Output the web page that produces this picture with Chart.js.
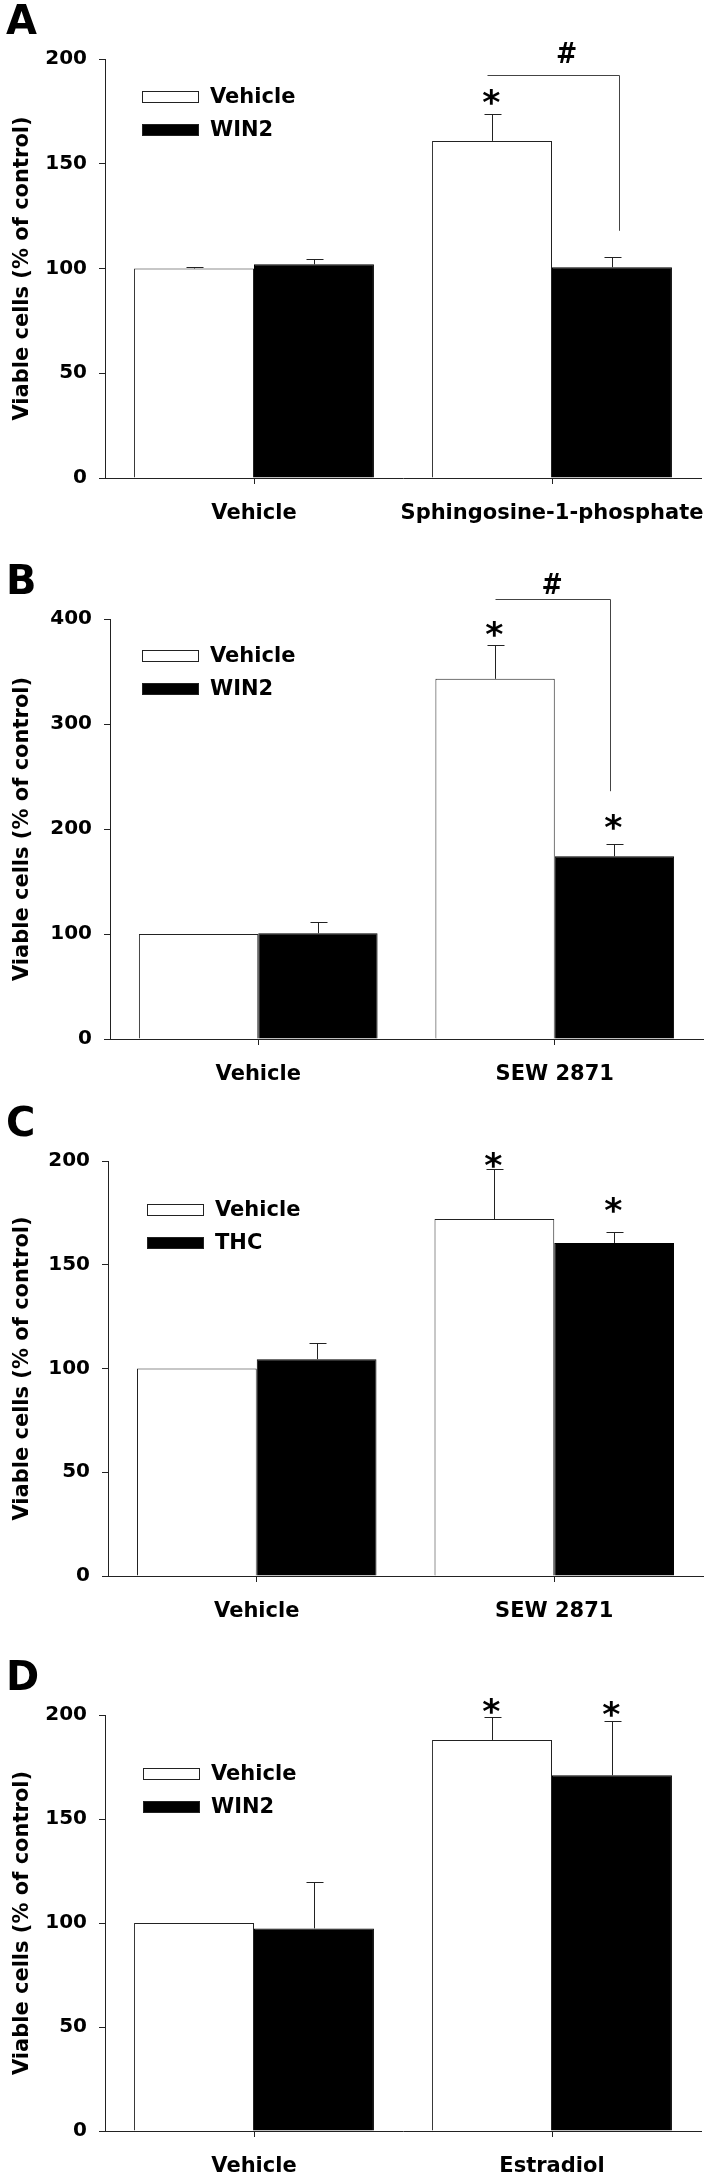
<!DOCTYPE html>
<html>
<head>
<meta charset="utf-8">
<script src="https://cdn.jsdelivr.net/npm/chart.js@4.4.1/dist/chart.umd.min.js"></script>
<style>
  html, body { margin: 0; padding: 0; background: #fff; }
  #page { position: relative; width: 713px; height: 2178px; overflow: hidden; background: #fff; }
  #page canvas { position: absolute; left: 0; }
</style>
</head>
<body>
<div id="page"></div>
<script>
// ---- data ----
const seriesA = ['Vehicle', 'WIN2'];
const categoriesA = ['Vehicle', 'Sphingosine-1-phosphate'];
const vehA = [100, 160.9];
const vehErrA = [0.5, 12.8];
const drugA = [102, 100.6];
const drugErrA = [2.3, 4.7];
const starsVehA = [null, 182.3];
const starsDrugA = [null, null];
const ticksA = [0, 50, 100, 150, 200];

const seriesB = ['Vehicle', 'WIN2'];
const categoriesB = ['Vehicle', 'SEW 2871'];
const vehB = [100, 343];
const vehErrB = [0, 32.5];
const drugB = [100.7, 174];
const drugErrB = [10.3, 12];
const starsVehB = [null, 391];
const starsDrugB = [null, 207];
const ticksB = [0, 100, 200, 300, 400];

const seriesC = ['Vehicle', 'THC'];
const categoriesC = ['Vehicle', 'SEW 2871'];
const vehC = [100, 172];
const vehErrC = [0, 24];
const drugC = [104.5, 160.5];
const drugErrC = [8, 5.5];
const starsVehC = [null, 200.5];
const starsDrugC = [null, 179];
const ticksC = [0, 50, 100, 150, 200];

const seriesD = ['Vehicle', 'WIN2'];
const categoriesD = ['Vehicle', 'Estradiol'];
const vehD = [100, 188];
const vehErrD = [0, 11];
const drugD = [97.4, 171];
const drugErrD = [22.3, 26];
const starsVehD = [null, 204.5];
const starsDrugD = [null, 203];
const ticksD = [0, 50, 100, 150, 200];

const FONT = "'DejaVu Sans', 'Liberation Sans', sans-serif";
const INK = '#222';

const panels = [
  { letter: 'A', top: 59, bottom: 478, left: 105, right: 701,
    series: seriesA, categories: categoriesA, values: [vehA, drugA], errors: [vehErrA, drugErrA],
    stars: [starsVehA, starsDrugA], ticks: ticksA, legend: { x: 37, y: 32 },
    bracket: { at: 192.4, drop: 118, dx0: -5, dx1: 7, hashAt: 203, hashDx: 13 } },
  { letter: 'B', top: 619, bottom: 1039, left: 110, right: 703,
    series: seriesB, categories: categoriesB, values: [vehB, drugB], errors: [vehErrB, drugErrB],
    stars: [starsVehB, starsDrugB], ticks: ticksB, legend: { x: 32, y: 31 },
    bracket: { at: 419, drop: 236, dx0: 0, dx1: -4, hashAt: 434, hashDx: -1 } },
  { letter: 'C', top: 1161, bottom: 1576, left: 108, right: 703,
    series: seriesC, categories: categoriesC, values: [vehC, drugC], errors: [vehErrC, drugErrC],
    stars: [starsVehC, starsDrugC], ticks: ticksC, legend: { x: 39, y: 43 }, bracket: null },
  { letter: 'D', top: 1715, bottom: 2131, left: 105, right: 701,
    series: seriesD, categories: categoriesD, values: [vehD, drugD], errors: [vehErrD, drugErrD],
    stars: [starsVehD, starsDrugD], ticks: ticksD, legend: { x: 38, y: 53 }, bracket: null }
];

const TITLE_H = 58;
const XAXIS_H = 47;
const PAD_LEFT = 6;

// draw a single glyph so that its ink box is w x h, centred on (cx, cy)
function drawGlyph(ctx, ch, cx, cy, w, h) {
  ctx.save();
  ctx.font = `bold 100px ${FONT}`;
  ctx.textAlign = 'left';
  ctx.textBaseline = 'alphabetic';
  const m = ctx.measureText(ch);
  const bw = m.actualBoundingBoxLeft + m.actualBoundingBoxRight;
  const bh = m.actualBoundingBoxAscent + m.actualBoundingBoxDescent;
  ctx.translate(cx, cy);
  ctx.scale(w / bw, h / bh);
  ctx.fillText(ch, -bw / 2 + m.actualBoundingBoxLeft, bh / 2 - m.actualBoundingBoxDescent);
  ctx.restore();
}

function makeExtras(p) {
  return {
    id: 'extras',
    afterDatasetsDraw(chart) {
      const ctx = chart.ctx;
      const y = chart.scales.y;
      const area = chart.chartArea;
      ctx.save();
      ctx.strokeStyle = INK;
      ctx.lineWidth = 1;
      ctx.fillStyle = '#000';

      // error bars (upper only) and asterisks
      chart.data.datasets.forEach((ds, di) => {
        chart.getDatasetMeta(di).data.forEach((bar, i) => {
          const x = Math.round(bar.x) + 0.5;
          const err = p.errors[di][i];
          if (err > 0) {
            const yt = Math.round(y.getPixelForValue(ds.data[i] + err)) + 0.5;
            ctx.beginPath();
            ctx.moveTo(x, bar.y);
            ctx.lineTo(x, yt);
            ctx.moveTo(x - 8, yt);
            ctx.lineTo(x + 9, yt);
            ctx.stroke();
          }
          const s = p.stars[di][i];
          if (s != null) {
            drawGlyph(ctx, '*', x - 1, y.getPixelForValue(s), 17, 16);
          }
        });
      });

      // significance bracket
      if (p.bracket) {
        const b = p.bracket;
        const x0 = Math.round(chart.getDatasetMeta(0).data[1].x + b.dx0) + 0.5;
        const x1 = Math.round(chart.getDatasetMeta(1).data[1].x + b.dx1) + 0.5;
        const yb = Math.round(y.getPixelForValue(b.at)) + 0.5;
        const yd = y.getPixelForValue(b.drop);
        ctx.strokeStyle = '#444';
        ctx.beginPath();
        ctx.moveTo(x0, yb);
        ctx.lineTo(x1, yb);
        ctx.lineTo(x1, yd);
        ctx.stroke();
        drawGlyph(ctx, '#', (x0 + x1) / 2 + b.hashDx, y.getPixelForValue(b.hashAt), 18, 21);
      }

      // legend
      const lx = area.left + p.legend.x;
      const ly = area.top + p.legend.y;
      chart.data.datasets.forEach((ds, di) => {
        const by = ly + di * 33;
        ctx.fillStyle = ds.backgroundColor;
        ctx.fillRect(lx, by, 57, 12);
        ctx.strokeStyle = INK;
        ctx.strokeRect(lx + 0.5, by + 0.5, 56, 11);
        ctx.fillStyle = '#000';
        ctx.font = `bold 21px ${FONT}`;
        ctx.textAlign = 'left';
        ctx.textBaseline = 'middle';
        ctx.fillText(ds.label, lx + 68, by + 7);
      });
      ctx.restore();
    }
  };
}

const page = document.getElementById('page');

panels.forEach(p => {
  const h = TITLE_H + (p.bottom - p.top) + XAXIS_H;
  const canvas = document.createElement('canvas');
  canvas.width = 713;
  canvas.height = h;
  canvas.style.width = '713px';
  canvas.style.height = h + 'px';
  canvas.style.top = (p.top - TITLE_H) + 'px';
  page.appendChild(canvas);

  new Chart(canvas, {
    type: 'bar',
    data: {
      labels: p.categories,
      datasets: [
        { label: p.series[0], data: p.values[0], backgroundColor: '#ffffff', borderColor: INK, borderWidth: 1 },
        { label: p.series[1], data: p.values[1], backgroundColor: '#000000', borderColor: '#000000', borderWidth: 1 }
      ]
    },
    options: {
      responsive: false,
      animation: false,
      devicePixelRatio: 1,
      layout: { padding: { left: PAD_LEFT, right: 713 - p.right, top: 0, bottom: 0 } },
      datasets: { bar: { categoryPercentage: 0.805, barPercentage: 1.0 } },
      plugins: {
        legend: { display: false },
        tooltip: { enabled: false },
        title: {
          display: true,
          text: p.letter,
          align: 'start',
          color: '#000',
          font: { family: FONT, size: 40, weight: 'bold', lineHeight: 1 },
          padding: { top: 3, bottom: 15 }
        }
      },
      scales: {
        x: {
          afterFit: s => { s.height = XAXIS_H; s.paddingLeft = 0; s.paddingRight = 0; },
          grid: { display: true, offset: false, drawOnChartArea: false, drawTicks: true, tickLength: 6, color: INK },
          border: { display: true, color: INK, width: 1 },
          ticks: {
            color: '#000', padding: 17, maxRotation: 0, minRotation: 0, autoSkip: false,
            font: { family: FONT, size: 21, weight: 'bold' }
          }
        },
        y: {
          min: p.ticks[0],
          max: p.ticks[p.ticks.length - 1],
          afterFit: s => { s.width = p.left - PAD_LEFT; s.paddingTop = 0; s.paddingBottom = 0; },
          afterBuildTicks: s => { s.ticks = p.ticks.map(v => ({ value: v })); },
          grid: { display: true, drawOnChartArea: false, drawTicks: true, tickLength: 6, color: INK },
          border: { display: true, color: INK, width: 1 },
          ticks: { color: '#000', padding: 12, font: { family: FONT, size: 20, weight: 'bold' } },
          title: {
            display: true,
            text: 'Viable cells (% of control)',
            color: '#000',
            font: { family: FONT, size: 21, weight: 'bold' },
            padding: { top: 4, bottom: 0 }
          }
        }
      }
    },
    plugins: [makeExtras(p)]
  });
});
</script>
</body>
</html>
